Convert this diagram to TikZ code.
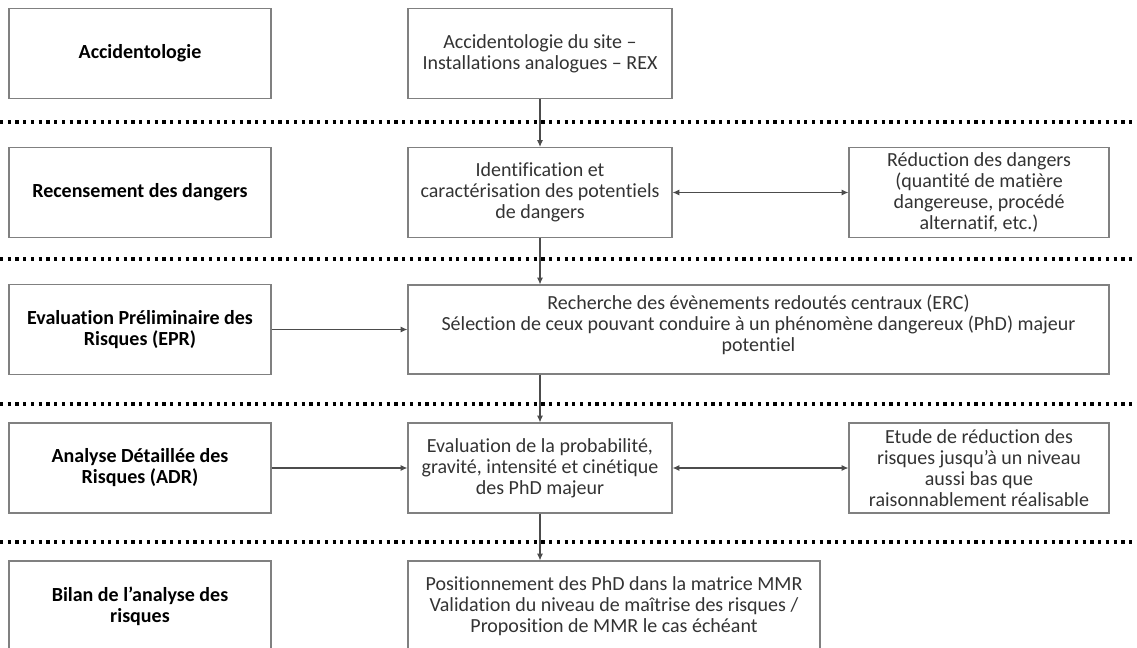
\documentclass[tikz,border=0pt]{standalone}
\usepackage{fontspec}
\setmainfont{Carlito}[Ligatures=NoCommon]
\usetikzlibrary{arrows.meta}

\begin{document}
\begin{tikzpicture}[x=0.75pt, y=-0.75pt,
    every node/.style = {shape=rectangle, draw=black!50, line width=0.9pt, align=center,
        inner sep=2pt, font=\fontsize{15}{15.75}\selectfont, text=black!80},
    phase/.style = {minimum width=196.5pt, minimum height=67.5pt, font=\fontsize{15}{15.75}\selectfont\bfseries, text=black},
    midbox/.style = {minimum width=198pt, minimum height=67.5pt},
    sidebox/.style = {minimum width=195pt, minimum height=67.5pt},
    sep/.style = {line width=2.4pt, dash pattern=on 2.4pt off 3.4pt, black},
    flow/.style = {draw=black!70, line width=0.8pt, -{Latex[length=5pt,width=4.5pt]}},
    both/.style = {draw=black!70, line width=0.8pt, {Latex[length=5pt,width=4.5pt]}-{Latex[length=5pt,width=4.5pt]}}]
     \clip (0,0) rectangle (1137,648);
     % separators
     \draw[sep] (0,122) -- (1137,122);
     \draw[sep] (0,259) -- (1137,259);
     \draw[sep] (0,404) -- (1137,404);
     \draw[sep] (0,542) -- (1137,542);
     % left column
     \node[phase] (acc) at (140,53.5) {Accidentologie};
     \node[phase] (rec) at (140,192.5) {Recensement des dangers};
     \node[phase] (epr) at (140,329.5) {Evaluation Préliminaire des\\Risques (EPR)};
     \node[phase] (adr) at (140,468) {Analyse Détaillée des\\Risques (ADR)};
     \node[phase] (bil) at (140,606) {Bilan de l’analyse des\\risques};
     % middle column
     \node[midbox] (site) at (540,53.5) {Accidentologie du site –\\Installations analogues – REX};
     \node[midbox] (ident) at (540,192.5) {Identification et\\caractérisation des potentiels\\de dangers};
     \node[minimum width=525.75pt, minimum height=66.75pt] (erc) at (758.5,329.5)
         {Recherche des évènements redoutés centraux (ERC)\\Sélection de ceux pouvant conduire à un phénomène dangereux (PhD) majeur\\potentiel\vphantom{\rule{0pt}{0pt}}\\[-6pt]};
     \node[midbox] (proba) at (540,468) {Evaluation de la probabilité,\\gravité, intensité et cinétique\\des PhD majeur};
     \node[minimum width=309pt, minimum height=67.5pt] (mmr) at (614,606)
         {Positionnement des PhD dans la matrice MMR\\Validation du niveau de maîtrise des risques /\\Proposition de MMR le cas échéant};
     % right column
     \node[sidebox] (redu) at (979,192.5) {Réduction des dangers\\(quantité de matière\\dangereuse, procédé\\alternatif, etc.)};
     \node[sidebox] (etude) at (979,468) {Etude de réduction des\\risques jusqu’à un niveau\\aussi bas que\\raisonnablement réalisable};
     % connectors
     \draw[flow] (site.south) -- (ident.north);
     \draw[flow] (ident.south) -- (ident.south |- erc.north);
     \draw[flow] (ident.south |- erc.south) -- (proba.north);
     \draw[flow] (proba.south) -- (proba.south |- mmr.north);
     \draw[flow] (epr.east) -- (erc.west |- epr.east);
     \draw[flow] (adr.east) -- (proba.west);
     \draw[both] (ident.east) -- (redu.west);
     \draw[both] (proba.east) -- (etude.west);
\end{tikzpicture}
\end{document}
